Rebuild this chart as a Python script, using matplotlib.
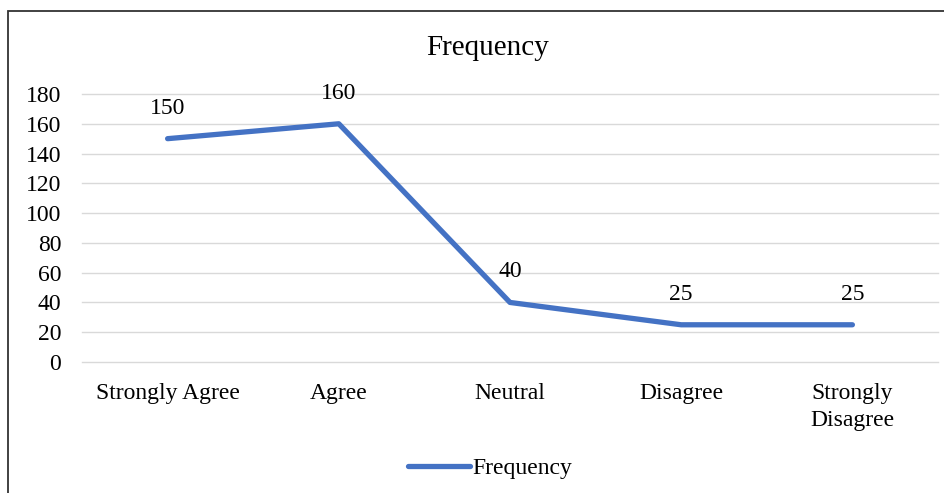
import matplotlib
matplotlib.use("Agg")
import matplotlib.pyplot as plt
from matplotlib.patches import Rectangle

categories = ["Strongly Agree", "Agree", "Neutral", "Disagree", "Strongly\nDisagree"]
frequency = [150, 160, 40, 25, 25]
y_ticks = list(range(0, 181, 20))

plt.rcParams["font.family"] = ["Liberation Serif", "DejaVu Serif"]

fig = plt.figure(figsize=(9.44, 4.93), dpi=100)
ax = fig.add_axes([82 / 944, 1 - 362 / 493, 856 / 944, 268 / 493])

x = range(len(categories))
ax.plot(x, frequency, color="#4472C4", lw=3.8, solid_capstyle="round",
        solid_joinstyle="round", label="Frequency", zorder=3)
for xi, v in zip(x, frequency):
    ax.annotate(str(v), (xi, v), xytext=(0, 22), textcoords="offset points",
                ha="center", va="center", fontsize=17, color="#000000")

ax.set_xlim(-0.5, len(categories) - 0.5)
ax.set_ylim(0, 180)
ax.set_yticks(y_ticks)
ax.set_xticks(list(x))
ax.set_xticklabels(categories, fontsize=17, linespacing=1.4)
ax.tick_params(axis="y", labelsize=17, length=0, pad=15)
ax.tick_params(axis="x", length=0, pad=15)
ax.grid(axis="y", color="#d9d9d9", lw=1)
for gl in ax.get_ygridlines():
    gl.set_clip_on(False)
ax.set_axisbelow(True)
for s in ax.spines.values():
    s.set_visible(False)

fig.text(488 / 944, 1 - 48 / 493, "Frequency", ha="center", va="center", fontsize=21)
fig.legend(loc="center", bbox_to_anchor=(490 / 944, 1 - 468 / 493), frameon=False,
           fontsize=17, handlelength=2.6, handletextpad=0.1)

# outer chart border (right/bottom edges fall outside the image)
fig.patches.append(Rectangle((8 / 944, -0.1), 1.2, 0.1 + 1 - 11 / 493,
                             transform=fig.transFigure, fill=False,
                             edgecolor="#333333", lw=1.3))

fig.savefig("out.png", dpi=100)
